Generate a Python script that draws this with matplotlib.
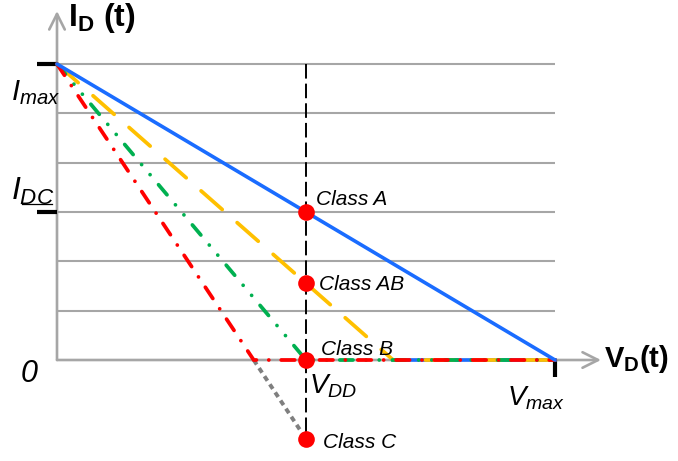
import matplotlib
matplotlib.use("Agg")
import matplotlib.pyplot as plt

plt.rcParams["font.family"] = ["Liberation Sans", "DejaVu Sans"]
plt.rcParams["mathtext.fontset"] = "custom"
plt.rcParams["mathtext.rm"] = "Liberation Sans"
plt.rcParams["mathtext.it"] = "Liberation Sans:italic"
plt.rcParams["mathtext.bf"] = "Liberation Sans:bold"

# Normalised load-line diagram: V_DD = 1, V_max = 2, I_max = 6 grid steps
V_DD = 1.0
V_MAX = 2.0
I_MAX = 6.0
I_DC = 3.0
grid_levels = [1, 2, 3, 4, 5, 6]

class_names = ["Class A", "Class AB", "Class B", "Class C"]
cutoff_voltage = [2.0, 1.35, 1.0, 0.79]      # where each load line reaches I = 0
quiescent_current = [3.0, 1.56, 0.0, -1.6]   # operating point at V_DD

# pixel -> data scale of the drawing
PX_X = 249.0
PX_Y = 49.33
X0, Y0 = 57.0, 360.0
W, H = 678, 461


def dx(px):
    return (px - X0) / PX_X


def dy(py):
    return (Y0 - py) / PX_Y


fig = plt.figure(figsize=(W / 100, H / 100), dpi=100)
ax = fig.add_axes([0, 0, 1, 1])
ax.set_xlim(dx(0), dx(W))
ax.set_ylim(dy(H), dy(0))
ax.axis("off")

grey = "#A6A6A6"

# horizontal grid
ax.hlines(grid_levels, 0, V_MAX, color=grey, lw=1.5, zorder=1)

# axes with open arrow heads
ax.annotate("", xy=(0, dy(11)), xytext=(0, 0),
            arrowprops=dict(arrowstyle="->", color=grey, lw=1.9,
                            mutation_scale=28, shrinkA=0, shrinkB=0), zorder=2)
ax.annotate("", xy=(dx(601), 0), xytext=(0, 0),
            arrowprops=dict(arrowstyle="->", color=grey, lw=1.9,
                            mutation_scale=28, shrinkA=0, shrinkB=0), zorder=2)

# black tick marks at I_max, I_DC and V_max
ax.plot([dx(37), 0], [I_MAX, I_MAX], color="black", lw=3.0, solid_capstyle="butt", zorder=3)
ax.plot([dx(37), 0], [I_DC, I_DC], color="black", lw=3.0, solid_capstyle="butt", zorder=3)
ax.plot([V_MAX, V_MAX], [0, dy(377)], color="black", lw=3.0, solid_capstyle="butt", zorder=3)

# vertical dashed line at V_DD
ax.plot([V_DD, V_DD], [I_MAX, quiescent_current[3]], color="black", lw=1.4,
        dashes=(7.5, 2.6), zorder=3)

# Class A: straight load line
ax.plot([0, cutoff_voltage[0]], [I_MAX, 0], color="#1A6CFF", lw=2.6,
        solid_capstyle="round", zorder=6)
ax.plot([cutoff_voltage[1], V_MAX], [0, 0], color="#1A6CFF", lw=2.6, zorder=4)

# Class AB
ax.plot([0, cutoff_voltage[1], V_MAX], [I_MAX, 0, 0], color="#FFC000", lw=2.7,
        dashes=(7.5, 5.3), dash_capstyle="round", zorder=5)

# Class B
ax.plot([0, cutoff_voltage[2], V_MAX], [I_MAX, 0, 0], color="#00B050", lw=2.7,
        dashes=(3.5, 3.5, 0.01, 3.5, 0.01, 3.5), dash_capstyle="round", zorder=5)

# Class C
ax.plot([0, cutoff_voltage[3], V_MAX], [I_MAX, 0, 0], color="#FF0000", lw=2.7,
        dashes=(3.6, 3.3, 0.01, 3.3), dash_capstyle="round", zorder=5)
ax.plot([cutoff_voltage[3], V_DD], [0, quiescent_current[3]], color="#7F7F7F",
        lw=2.8, dashes=(1.4, 1.1), zorder=4)

# quiescent points
ax.plot([V_DD] * len(quiescent_current), quiescent_current, "o", color="#FF0000",
        ms=12, mec="none", zorder=8)

label_px = [(316, 205), (319, 290), (321, 355), (323, 448)]
for name, (px, py) in zip(class_names, label_px):
    ax.text(dx(px), dy(py), name, fontsize=15, style="italic",
            ha="left", va="baseline", zorder=9)

# axis labels
ax.text(dx(11), dy(100), r"$I_{max}$", fontsize=21, ha="left", va="baseline")
ax.text(dx(11), dy(200), r"$I_{DC}$", fontsize=23, ha="left", va="baseline")
ax.plot([dx(22), dx(52)], [dy(204), dy(204)], color="black", lw=0.9)
ax.text(dx(21), dy(382), "0", fontsize=22, style="italic", ha="left", va="baseline")
ax.text(dx(309), dy(393), r"$V_{DD}$", fontsize=20, ha="left", va="baseline")
ax.text(dx(507), dy(405), r"$V_{max}$", fontsize=20, ha="left", va="baseline")
ax.text(dx(68), dy(26), r"$\mathbf{I}_{\mathbf{D}}\ \mathbf{(t)}$", fontsize=23,
        ha="left", va="baseline")
ax.text(dx(604), dy(367), r"$\mathbf{V}_{\mathbf{D}}\mathbf{(t)}$", fontsize=21,
        ha="left", va="baseline")

fig.savefig("out.png", dpi=100)
